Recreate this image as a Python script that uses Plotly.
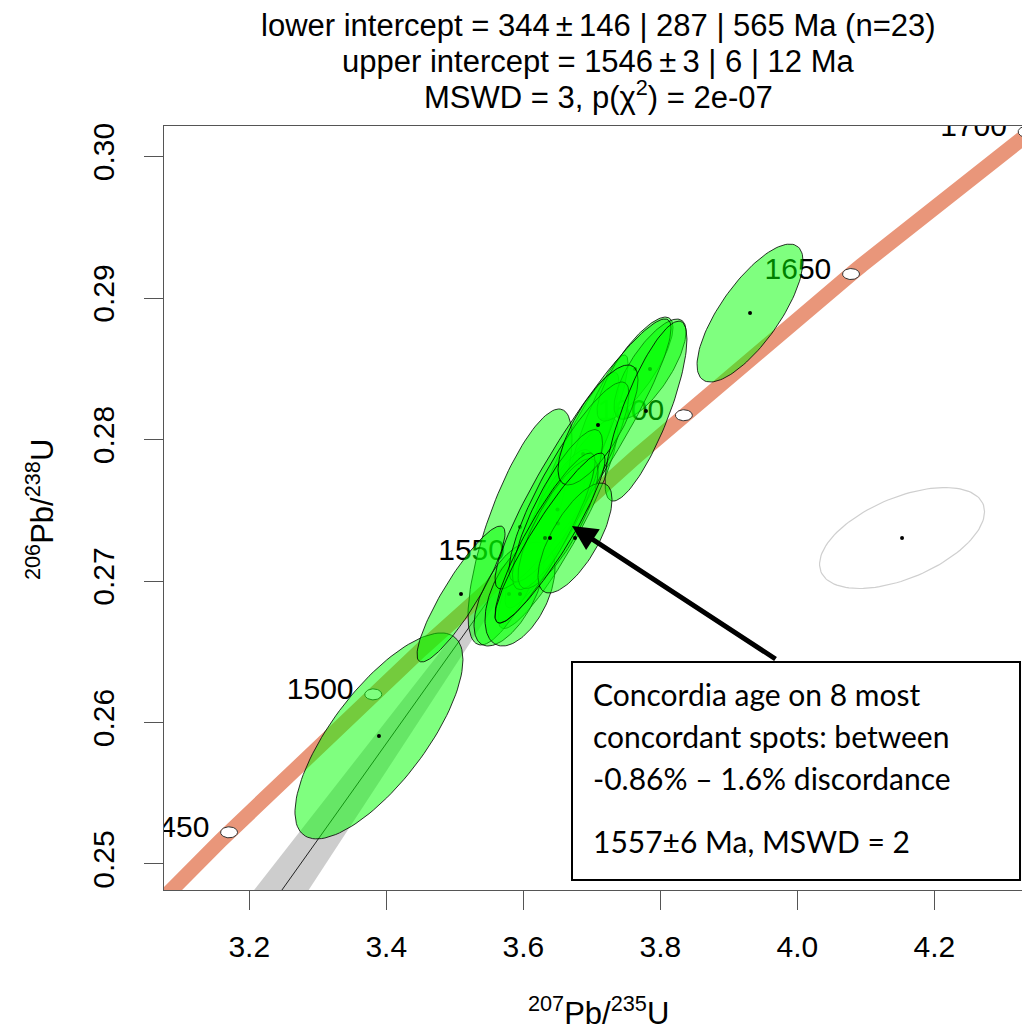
import numpy as np
import plotly.graph_objects as go

# ---------------- decay constants ----------------
LAMBDA_235 = 9.8485e-10
LAMBDA_238 = 1.55125e-10

# ---------------- analyses (drawing order) ----------------
pb207_u235 = [3.6667, 3.6507, 3.7091, 3.6499, 3.6317, 3.5952, 3.5791, 3.5952,
              3.7631, 3.7850, 3.6872, 3.6667, 3.6499, 3.6507, 3.6317, 3.7091,
              3.7791, 3.6755, 3.6390, 3.3893, 3.5091, 3.9310]
err_207_235 = [0.02982, 0.03578, 0.01789, 0.02087, 0.02386, 0.03101, 0.02087, 0.02087,
               0.02266, 0.02147, 0.05248, 0.03578, 0.02684, 0.02386, 0.02982, 0.02386,
               0.02445, 0.02207, 0.03280, 0.05010, 0.02624, 0.03161]
pb206_u238 = [0.27700, 0.27406, 0.28103, 0.27505, 0.27304, 0.27382, 0.26908, 0.26908,
              0.28498, 0.28498, 0.27898, 0.27700, 0.27505, 0.27406, 0.27304, 0.28103,
              0.28201, 0.27304, 0.27304, 0.25905, 0.26908, 0.28894]
err_206_238 = [0.003176, 0.003032, 0.002021, 0.001732, 0.002021, 0.003407, 0.001501, 0.001501,
               0.001501, 0.001444, 0.003898, 0.002887, 0.002310, 0.001877, 0.002454, 0.001732,
               0.002599, 0.001588, 0.002454, 0.002974, 0.001963, 0.001992]
err_corr = [0.90, 0.90, 0.88, 0.80, 0.88, 0.75, 0.60, 0.50,
            0.80, 0.75, 0.93, 0.88, 0.83, 0.80, 0.90, 0.75,
            0.80, 0.70, 0.92, 0.74, 0.89, 0.75]

# excluded analysis
excl_x, excl_sx, excl_y, excl_sy, excl_rho = 4.1529, 0.04920, 0.27304, 0.001458, 0.52

# discordia intercepts (Ma) and 95% half-widths
lower_age, lower_ci = 344, 287
upper_age, upper_ci = 1546, 6

# concordia age ticks (Ma)
age_ticks = [1450, 1500, 1550, 1600, 1650, 1700]

# axis ticks
x_ticks = [3.2, 3.4, 3.6, 3.8, 4.0, 4.2]
x_ticklabels = ["3.2", "3.4", "3.6", "3.8", "4.0", "4.2"]
y_ticks = [0.25, 0.26, 0.27, 0.28, 0.29, 0.30]
y_ticklabels = ["0.25", "0.26", "0.27", "0.28", "0.29", "0.30"]

# ---------------- layout constants ----------------
W, H = 1022, 1031
ML, MR, MT = 164, 0, 126
MB = H - 890
XR = [3.0755, 4.328]
YR = [0.24816, 0.30216]
plot_w = W - ML - MR
plot_h = H - MT - MB
px_x = plot_w / (XR[1] - XR[0])
px_y = plot_h / (YR[1] - YR[0])
K95 = np.sqrt(-2 * np.log(0.05))
FONT = "Liberation Sans, Arial, Helvetica, sans-serif"


def concordia(t_ma):
    t = np.asarray(t_ma, dtype=float) * 1e6
    return np.exp(LAMBDA_235 * t) - 1, np.exp(LAMBDA_238 * t) - 1


def ellipse(xc, sx, yc, sy, r, n=120):
    th = np.linspace(0, 2 * np.pi, n)
    ex = xc + K95 * sx * np.cos(th)
    ey = yc + K95 * sy * (r * np.cos(th) + np.sqrt(1 - r * r) * np.sin(th))
    return ex, ey


def page_y(py):
    return (H - MB - py) / plot_h


def page_x(px):
    return (px - ML) / plot_w


fig = go.Figure()

# discordia confidence band
ax_lo, ay_lo = concordia(lower_age + lower_ci)
ax_up, ay_up = concordia(upper_age - upper_ci)
bx_up, by_up = concordia(upper_age + upper_ci)
bx_lo, by_lo = concordia(lower_age - lower_ci)
fig.add_trace(go.Scatter(x=[ax_lo, ax_up, bx_up, bx_lo, ax_lo],
                         y=[ay_lo, ay_up, by_up, by_lo, ay_lo],
                         mode="lines", fill="toself", fillcolor="#cdcdcd",
                         line=dict(width=0), hoverinfo="skip"))
# discordia line
dx, dy = concordia([lower_age, upper_age])
fig.add_trace(go.Scatter(x=dx, y=dy, mode="lines",
                         line=dict(color="#222222", width=1), hoverinfo="skip"))

# concordia line
tc = np.linspace(1380, 1760, 200)
cx, cy = concordia(tc)
fig.add_trace(go.Scatter(x=cx, y=cy, mode="lines",
                         line=dict(color="#E9967A", width=15), hoverinfo="skip"))

# age markers
mx, my = concordia(age_ticks)
rx, ry = 8.5 / px_x, 5.5 / px_y
th = np.linspace(0, 2 * np.pi, 60)
for xm, ym in zip(mx, my):
    fig.add_trace(go.Scatter(x=xm + rx * np.cos(th), y=ym + ry * np.sin(th),
                             mode="lines", fill="toself", fillcolor="white",
                             line=dict(color="#333333", width=1), hoverinfo="skip"))
fig.add_trace(go.Scatter(x=mx, y=my + 3 / px_y, mode="markers+text",
                         text=[str(a) for a in age_ticks],
                         textposition="middle left",
                         textfont=dict(family=FONT, size=30, color="black"),
                         marker=dict(size=30, opacity=0), hoverinfo="skip"))

# excluded analysis
ex, ey = ellipse(excl_x, excl_sx, excl_y, excl_sy, excl_rho)
fig.add_trace(go.Scatter(x=ex, y=ey, mode="lines",
                         line=dict(color="#cfcfcf", width=1.2), hoverinfo="skip"))
fig.add_trace(go.Scatter(x=[excl_x], y=[excl_y], mode="markers",
                         marker=dict(color="black", size=4), hoverinfo="skip"))

# analyses
for xc, sx, yc, sy, r in zip(pb207_u235, err_207_235, pb206_u238, err_206_238, err_corr):
    ex, ey = ellipse(xc, sx, yc, sy, r)
    fig.add_trace(go.Scatter(x=ex, y=ey, mode="lines", fill="toself",
                             fillcolor="rgba(0,255,0,0.5)",
                             line=dict(color="rgba(0,0,0,0.8)", width=1),
                             hoverinfo="skip"))
    fig.add_trace(go.Scatter(x=[xc], y=[yc], mode="markers",
                             marker=dict(color="black", size=4), hoverinfo="skip"))

# annotation box
fig.add_shape(type="rect", xref="x", yref="y", x0=3.6711, x1=4.3251,
              y0=0.24887, y1=0.26428, line=dict(color="black", width=2),
              fillcolor="white", layer="above")
box_lines = ["Concordia age on 8 most", "concordant spots: between",
             "-0.86% \u2013 1.6% discordance", "1557\u00b16 Ma, MSWD = 2"]
box_y = [0.26201, 0.25905, 0.25608, 0.25163]
for txt, yy in zip(box_lines, box_y):
    fig.add_annotation(x=3.6985, y=yy, xref="x", yref="y", text=txt,
                       showarrow=False, xanchor="left", yanchor="middle",
                       font=dict(family="Lato, Open Sans, sans-serif", size=30, color="black"))
# arrow
fig.add_annotation(x=3.6711, y=0.27389, ax=3.9704, ay=0.26442,
                   xref="x", yref="y", axref="x", ayref="y", text="",
                   showarrow=True, arrowhead=2, arrowsize=1, arrowwidth=5,
                   arrowcolor="black")

# title lines
titles = ["lower intercept = 344\u2009\u00b1\u2009146 | 287 | 565 Ma (n=23)",
          "upper intercept = 1546\u2009\u00b1\u20093 | 6 | 12 Ma",
          "MSWD = 3, p(\u03c7<sup>2</sup>) = 2e-07"]
for txt, ypx in zip(titles, [26, 61, 95]):
    fig.add_annotation(x=page_x(598), y=page_y(ypx), xref="paper", yref="paper",
                       text=txt, showarrow=False, xanchor="center", yanchor="middle",
                       font=dict(family=FONT, size=31, color="black"))

# axis titles
fig.add_annotation(x=page_x(598), y=page_y(1011), xref="paper", yref="paper",
                   text="<sup>207</sup>Pb/<sup>235</sup>U", showarrow=False,
                   xanchor="center", yanchor="middle",
                   font=dict(family=FONT, size=31, color="black"))
fig.add_annotation(x=page_x(40), y=page_y(510), xref="paper", yref="paper",
                   text="<sup>206</sup>Pb/<sup>238</sup>U", showarrow=False,
                   textangle=-90, xanchor="center", yanchor="middle",
                   font=dict(family=FONT, size=31, color="black"))

fig.update_layout(
    width=W, height=H, margin=dict(l=ML, r=MR, t=MT, b=MB),
    plot_bgcolor="white", paper_bgcolor="white", showlegend=False,
    font=dict(family=FONT, size=30, color="black"),
    xaxis=dict(range=XR, tickvals=x_ticks, ticktext=x_ticklabels,
               ticks="outside", ticklen=19, tickcolor="#555555", tickwidth=1,
               showline=True, linecolor="#555555", linewidth=1, mirror=True,
               showgrid=False, zeroline=False, ticklabelstandoff=11,
               tickfont=dict(family=FONT, size=30, color="black")),
    yaxis=dict(range=YR, tickvals=y_ticks, ticktext=y_ticklabels,
               ticks="outside", ticklen=19, tickcolor="#555555", tickwidth=1,
               showline=True, linecolor="#555555", linewidth=1,
               showgrid=False, zeroline=False, tickangle=-90, ticklabelstandoff=18,
               tickfont=dict(family=FONT, size=30, color="black")),
)

fig.write_html("out.html",
               config={"displayModeBar": False},
               post_script="document.body.style.margin='0px';"
                           "document.body.style.overflow='hidden';")
